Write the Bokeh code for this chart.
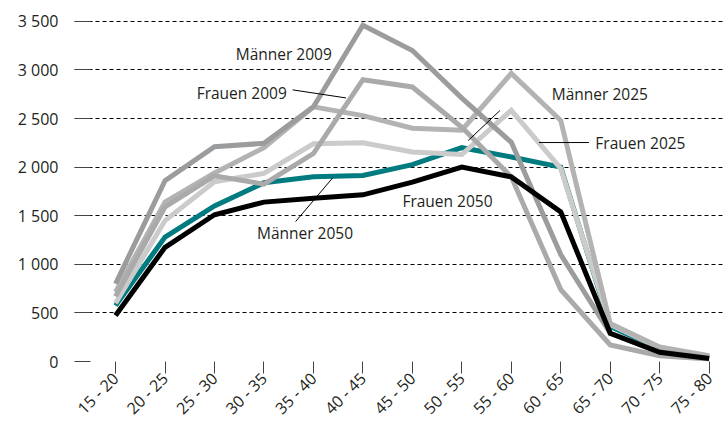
from bokeh.plotting import figure
from bokeh.models import Range1d, FixedTicker
from bokeh.core.properties import value
from bokeh.embed import file_html
from bokeh.resources import INLINE

categories = ["15 - 20", "20 - 25", "25 - 30", "30 - 35", "35 - 40", "40 - 45", "45 - 50",
              "50 - 55", "55 - 60", "60 - 65", "65 - 70", "70 - 75", "75 - 80"]

maenner_2009 = [800, 1860, 2210, 2245, 2620, 3460, 3200, 2710, 2255, 1100, 290, 100, 35]
frauen_2009 = [670, 1590, 1910, 1825, 2140, 2900, 2825, 2410, 1900, 740, 170, 60, 25]
maenner_2025 = [715, 1640, 1940, 2200, 2620, 2530, 2400, 2380, 2965, 2480, 390, 150, 60]
frauen_2025 = [600, 1450, 1850, 1935, 2240, 2250, 2155, 2130, 2585, 1985, 380, 140, 50]
frauen_2050 = [575, 1280, 1600, 1840, 1900, 1915, 2025, 2200, 2105, 2000, 360, 130, 50]
maenner_2050 = [474, 1175, 1510, 1640, 1680, 1715, 1845, 2000, 1900, 1540, 290, 95, 30]

y_ticks = [0, 500, 1000, 1500, 2000, 2500, 3000, 3500]
y_tick_labels = ["0", "500", "1 000", "1 500", "2 000", "2 500", "3 000", "3 500"]

FONT = "Open Sans"
TXT = "#231f20"

x = list(range(len(categories)))

p = figure(frame_width=649, frame_height=345, output_backend="svg", toolbar_location=None,
           x_range=Range1d(-0.83, 12.29), y_range=Range1d(0, 3550),
           min_border_left=74, min_border_right=0, min_border_top=16, min_border_bottom=10)
p.outline_line_color = None
p.background_fill_color = "white"
p.border_fill_color = "white"

# grid
p.xgrid.grid_line_color = None
p.ygrid.grid_line_color = "black"
p.ygrid.grid_line_dash = "4 3"
p.ygrid.grid_line_width = 1
p.ygrid.ticker = FixedTicker(ticks=y_ticks)

# y axis
p.yaxis.ticker = FixedTicker(ticks=y_ticks)
p.yaxis.major_label_overrides = {t: l for t, l in zip(y_ticks, y_tick_labels)}
p.yaxis.axis_line_color = None
p.yaxis.major_tick_in = 16
p.yaxis.major_tick_out = 0
p.yaxis.major_tick_line_color = "#444444"
p.yaxis.minor_tick_line_color = None
p.yaxis.major_label_standoff = 16
p.yaxis.major_label_text_font = FONT
p.yaxis.major_label_text_font_size = "16px"
p.yaxis.major_label_text_color = TXT

# x axis
p.xaxis.ticker = FixedTicker(ticks=x)
p.xaxis.major_label_overrides = {i: c for i, c in zip(x, categories)}
p.xaxis.axis_line_color = None
p.xaxis.major_tick_in = 0
p.xaxis.major_tick_out = 12
p.xaxis.major_tick_line_color = "#444444"
p.xaxis.minor_tick_line_color = None
p.xaxis.major_label_orientation = 0.785398
p.xaxis.major_label_standoff = 2
p.xaxis.major_label_text_font = FONT
p.xaxis.major_label_text_font_size = "16px"
p.xaxis.major_label_text_color = TXT

# lines (bottom to top)
LW = 5
p.line(x, frauen_2050, line_color="#007b80", line_width=LW, line_join="miter")
p.line(x, frauen_2025, line_color="#cbcbcb", line_width=LW, line_join="miter")
p.line(x, maenner_2025, line_color="#b3b3b3", line_width=LW, line_join="miter")
p.line(x, frauen_2009, line_color="#aaaaaa", line_width=LW, line_join="miter")
p.line(x, maenner_2009, line_color="#9a9c9e", line_width=LW, line_join="miter")
p.line(x, maenner_2050, line_color="black", line_width=LW, line_join="miter")

# labels
lab_x = [3.40, 2.55, 9.79, 10.61, 6.71, 3.83]
lab_y = [3169, 2767, 2757, 2253, 1656, 1327]
lab_t = ["Männer 2009", "Frauen 2009", "Männer 2025", "Frauen 2025", "Frauen 2050", "Männer 2050"]
p.text(lab_x, lab_y, text=lab_t, text_font=value(FONT), text_font_size="15.5px",
       text_color=TXT, text_align="center", text_baseline="middle")

# pointer lines
p.segment(x0=[3.58, 8.56, 7.13, 3.64], y0=[2795, 2253, 2274, 1440],
          x1=[4.66, 9.57, 7.77, 4.39], y1=[2712, 2253, 2582, 1890],
          line_color="black", line_width=1)

open("out.html", "w").write(file_html(p, INLINE))
